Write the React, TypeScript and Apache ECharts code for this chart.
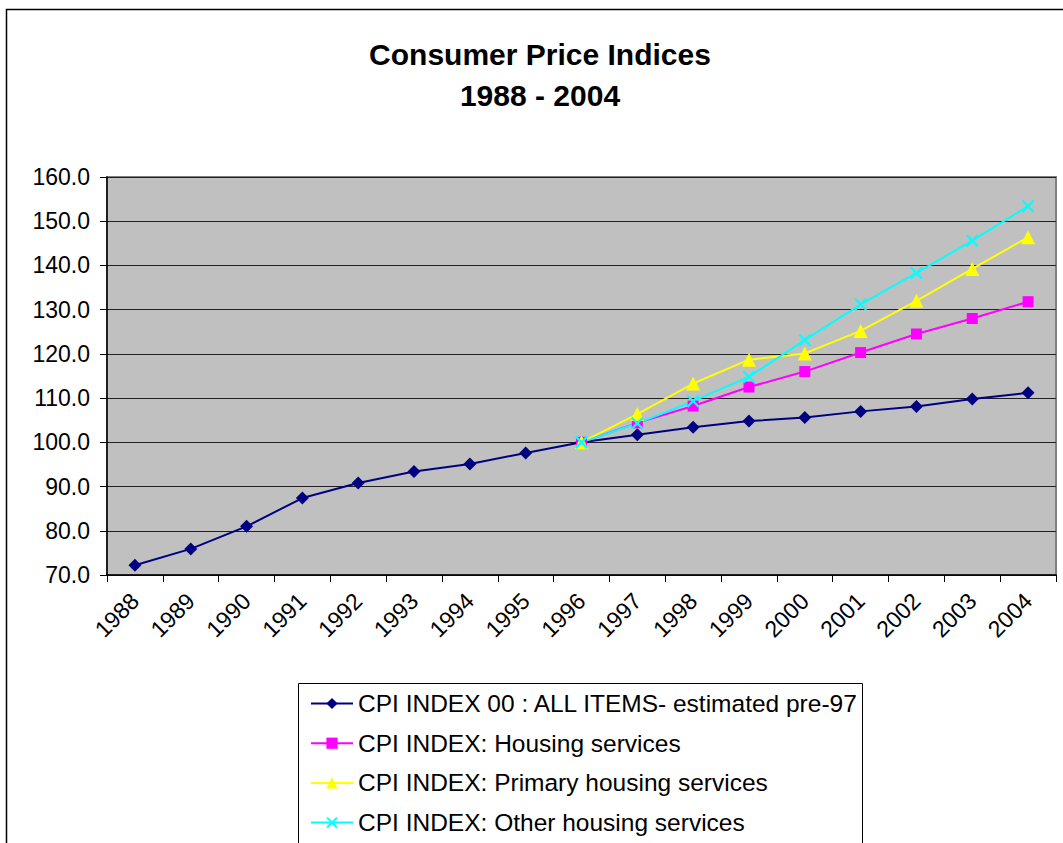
import React, { useEffect, useRef } from "react";
import * as echarts from "echarts";

const years = ["1988","1989","1990","1991","1992","1993","1994","1995","1996","1997","1998","1999","2000","2001","2002","2003","2004"];
const allItems = [72.2, 75.9, 81.0, 87.4, 90.8, 93.4, 95.1, 97.6, 100.0, 101.7, 103.4, 104.8, 105.6, 107.0, 108.1, 109.8, 111.2];
const housing = [null, null, null, null, null, null, null, null, 100.0, 104.4, 108.2, 112.5, 116.0, 120.3, 124.5, 128.0, 131.8];
const primaryHousing = [null, null, null, null, null, null, null, null, 100.0, 106.4, 113.3, 118.7, 120.1, 125.2, 132.0, 139.2, 146.4];
const otherHousing = [null, null, null, null, null, null, null, null, 100.0, 104.3, 109.3, 114.8, 123.1, 131.2, 138.3, 145.6, 153.4];
const seriesNames = [
  "CPI INDEX 00 : ALL ITEMS- estimated pre-97",
  "CPI INDEX: Housing services",
  "CPI INDEX: Primary housing services",
  "CPI INDEX: Other housing services",
];
const titleLines = ["Consumer Price Indices", "1988 - 2004"];

const FONT = "'Liberation Sans', Arial, sans-serif";
const X_PATH = "path://M0,1.2 L1.2,0 L5,3.8 L8.8,0 L10,1.2 L6.2,5 L10,8.8 L8.8,10 L5,6.2 L1.2,10 L0,8.8 L3.8,5 Z";

export default function App() {
  const ref = useRef<HTMLDivElement>(null);
  useEffect(() => {
    if (!ref.current) return;
    const chart = echarts.init(ref.current, undefined, { renderer: "svg" });
    const mk = (name: string, data: any[], color: string, symbol: string, size: number) => ({
      name,
      type: "line",
      data,
      symbol,
      symbolSize: size,
      lineStyle: { color, width: 2 },
      itemStyle: { color },
      emphasis: { disabled: true },
    });
    chart.setOption({
      animation: false,
      backgroundColor: "#ffffff",
      graphic: [
        { type: "rect", shape: { x: 6.5, y: 9.5, width: 1100, height: 900 }, style: { fill: "none", stroke: "#000", lineWidth: 1.5 }, silent: true, z: -10 },
        { type: "rect", shape: { x: 298.5, y: 683.5, width: 564, height: 200 }, style: { fill: "#fff", stroke: "#000", lineWidth: 1 }, silent: true, z: -5 },
        { type: "text", x: 540, y: 54, style: { text: titleLines[0], font: `bold 30px ${FONT}`, fill: "#000", textAlign: "center", textVerticalAlign: "middle" } },
        { type: "text", x: 540, y: 95, style: { text: titleLines[1], font: `bold 30px ${FONT}`, fill: "#000", textAlign: "center", textVerticalAlign: "middle" } },
      ],
      grid: {
        left: 107, top: 177, right: 7, bottom: 268,
        show: true, backgroundColor: "#C0C0C0", borderColor: "#808080", borderWidth: 2,
      },
      xAxis: {
        type: "category",
        data: years,
        boundaryGap: true,
        axisLine: { lineStyle: { color: "#000", width: 1.5 } },
        axisTick: { show: true, alignWithLabel: false, length: 7, lineStyle: { color: "#000" } },
        axisLabel: { rotate: 45, fontSize: 23, color: "#000", fontFamily: FONT, margin: 22, interval: 0 },
        splitLine: { show: false },
      },
      yAxis: {
        type: "value",
        min: 70, max: 160, interval: 10,
        axisLine: { show: true, lineStyle: { color: "#000", width: 1.5 } },
        axisTick: { show: true, length: 7, lineStyle: { color: "#000" } },
        axisLabel: { fontSize: 23, color: "#000", fontFamily: FONT, margin: 17, formatter: (v: number) => v.toFixed(1) },
        splitLine: { show: true, lineStyle: { color: "#202020", width: 1 } },
      },
      legend: {
        orient: "vertical",
        left: 310, top: 691,
        padding: 0,
        itemWidth: 42, itemHeight: 14, itemGap: 14.7,
        textStyle: { fontSize: 24.5, lineHeight: 24, color: "#000", fontFamily: FONT },
        data: seriesNames,
      },
      series: [
        mk(seriesNames[0], allItems, "#000080", "diamond", 13),
        mk(seriesNames[1], housing, "#FF00FF", "rect", 11),
        mk(seriesNames[2], primaryHousing, "#FFFF00", "triangle", 14),
        mk(seriesNames[3], otherHousing, "#00FFFF", X_PATH, 13),
      ],
    });
    return () => chart.dispose();
  }, []);
  return <div ref={ref} style={{ position: "fixed", left: 0, top: 0, width: 1063, height: 843 }} />;
}
